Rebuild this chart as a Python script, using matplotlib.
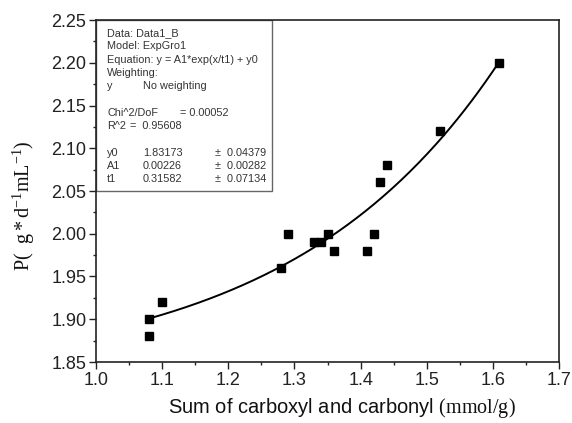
import numpy as np
import matplotlib
matplotlib.use("Agg")
import matplotlib.pyplot as plt
from matplotlib.ticker import MultipleLocator

plt.rcParams['font.family'] = ['Liberation Sans', 'DejaVu Sans']
plt.rcParams['mathtext.fontset'] = 'custom'
plt.rcParams['mathtext.rm'] = 'Liberation Serif'
plt.rcParams['mathtext.it'] = 'Liberation Serif:italic'

# measured points
x_vals = [1.08, 1.08, 1.10, 1.28, 1.29, 1.33, 1.34, 1.35, 1.36, 1.41, 1.42, 1.43, 1.44, 1.52, 1.61]
y_vals = [1.88, 1.90, 1.92, 1.96, 2.00, 1.99, 1.99, 2.00, 1.98, 1.98, 2.00, 2.06, 2.08, 2.12, 2.20]

# ExpGro1 fit parameters
y0 = 1.83173
A1 = 0.00226
t1 = 0.31582

# fit report: (label, column 2, column 3)
fit_lines = [
    ("Data: Data1_B", None, None),
    ("Model: ExpGro1", None, None),
    ("Equation: y = A1*exp(x/t1) + y0", None, None),
    ("Weighting:", None, None),
    ("y", "No weighting", None),
    ("", None, None),
    ("Chi^2/DoF", None, "= 0.00052"),
    ("R^2", "=  0.95608", None),
    ("", None, None),
    ("y0", "1.83173", "\u00b1  0.04379"),
    ("A1", "0.00226", "\u00b1  0.00282"),
    ("t1", "0.31582", "\u00b1  0.07134"),
]

W, H = 572, 423
fig = plt.figure(figsize=(W / 100, H / 100), dpi=100)
ax = fig.add_axes([96 / W, 1 - 362 / H, (559 - 96) / W, (362 - 20) / H])

xf = np.linspace(min(x_vals), max(x_vals), 200)
ax.plot(xf, A1 * np.exp(xf / t1) + y0, color='black', lw=1.4)
ax.plot(x_vals, y_vals, 's', color='black', ms=6)

ax.set_xlim(1.0, 1.7)
ax.set_ylim(1.85, 2.25)
ax.xaxis.set_major_locator(MultipleLocator(0.1))
ax.xaxis.set_minor_locator(MultipleLocator(0.05))
ax.yaxis.set_major_locator(MultipleLocator(0.05))
ax.yaxis.set_minor_locator(MultipleLocator(0.025))
ax.tick_params(which='both', direction='out', top=False, right=False, labelsize=13,
               colors='#222222')
ax.tick_params(which='major', length=5, width=1, pad=2)
ax.tick_params(which='minor', length=2.5, width=1)
ax.xaxis.set_major_formatter(plt.FuncFormatter(lambda v, p: f"{v:.1f}"))
ax.yaxis.set_major_formatter(plt.FuncFormatter(lambda v, p: f"{v:.2f}"))
for s in ax.spines.values():
    s.set_linewidth(1.2)
    s.set_color('#222222')

fig.text(342 / W, 1 - 408 / H, r"Sum of carboxyl and carbonyl $\mathrm{(mmol/g)}$",
         fontsize=14.5, ha='center', va='center', color='#111111')
fig.text(24 / W, 1 - 206 / H, r"$\mathrm{P(\ \ g*d^{-1}mL^{-1})}$", fontsize=14.5,
         rotation=90, ha='center', va='center', color='#111111')

# fit report box
box = plt.Rectangle((0, 1), 176 / 463, -171 / 342, transform=ax.transAxes,
                    fill=False, edgecolor='#666666', lw=1)
ax.add_patch(box)
for i, (a, b, c) in enumerate(fit_lines):
    yy = 1 - (33 + i * 13.3) / H
    fig.text(107 / W, yy, a, fontsize=7.8, color='#333333', va='center')
    if b is not None:
        bx = 130 if b.startswith('=') else 143
        fig.text(bx / W, yy, b, fontsize=7.8, color='#333333', va='center')
    if c is not None:
        cx = 180 if c.startswith('=') else 215
        fig.text(cx / W, yy, c, fontsize=7.8, color='#333333', va='center')

fig.savefig("out.png", dpi=100)
